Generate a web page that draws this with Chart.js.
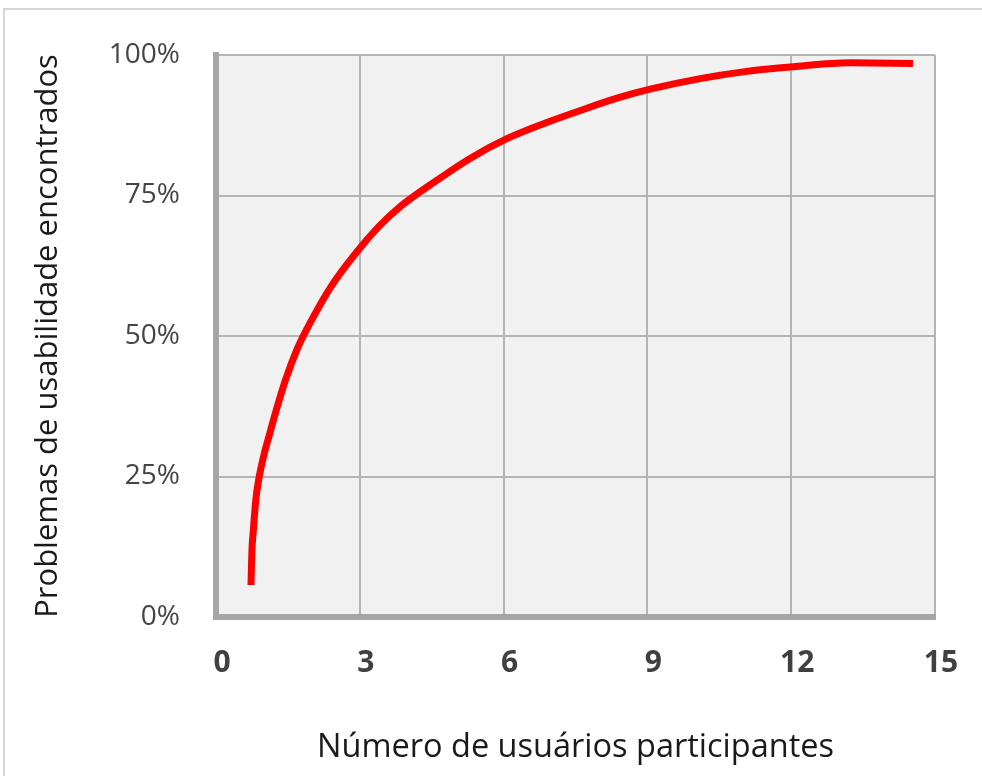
<!DOCTYPE html>
<html lang="pt">
<head>
<meta charset="utf-8">
<title>Problemas de usabilidade encontrados</title>
<script src="https://cdn.jsdelivr.net/npm/chart.js@4/dist/chart.umd.min.js"></script>
<style>
  html, body { margin: 0; padding: 0; background: #ffffff; overflow: hidden; }
  #wrap { position: relative; width: 982px; height: 776px; }
  #frame {
    position: absolute; left: 3px; top: 8px; width: 1200px; height: 1200px;
    border-top: 2px solid #d6d6d6; border-left: 2px solid #d6d6d6;
  }
  #chart { position: absolute; left: 0; top: 0; }
</style>
</head>
<body>
<div id="wrap">
  <div id="frame"></div>
  <canvas id="chart" width="982" height="776"></canvas>
</div>
<script>
// Número de usuários participantes (x) e parcela de problemas encontrados, em % (y)
const usuarios  = [0.73, 0.75, 0.78, 0.83, 0.89, 1.01, 1.11, 1.25, 1.45, 1.71, 1.98, 2.4, 2.94, 3.4, 3.84, 4.59, 5.3, 6.09, 6.9, 7.66, 8.4, 9.1, 10.1, 11, 12.04, 13.23, 14.54];
const problemas = [5.7, 11.9, 15.5, 20.8, 24.4, 29.2, 32.3, 36.6, 42.2, 48.0, 52.6, 58.8, 65.0, 69.5, 73.0, 77.6, 81.6, 85.2, 88.0, 90.3, 92.4, 94.0, 95.8, 97.0, 97.9, 98.6, 98.5];

// Marcas dos eixos
const xTicks = [0, 3, 6, 9, 12, 15];
const yTicks = [0, 25, 50, 75, 100];
const yTickLabels = ['0%', '25%', '50%', '75%', '100%'];

const pontos = usuarios.map((u, i) => ({ x: u, y: problemas[i] }));

// Fundo cinza claro da área de plotagem
const plotBackground = {
  id: 'plotBackground',
  beforeDraw(chart) {
    const { ctx, chartArea: a } = chart;
    ctx.save();
    ctx.fillStyle = '#f1f1f1';
    ctx.fillRect(a.left, a.top, a.right - a.left, a.bottom - a.top);
    ctx.restore();
  }
};

new Chart(document.getElementById('chart'), {
  type: 'line',
  data: {
    datasets: [{
      data: pontos,
      borderColor: '#ff0000',
      borderWidth: 7,
      borderCapStyle: 'butt',
      borderJoinStyle: 'round',
      pointRadius: 0,
      fill: false,
      cubicInterpolationMode: 'monotone'
    }]
  },
  plugins: [plotBackground],
  options: {
    responsive: false,
    animation: false,
    events: [],
    layout: { padding: { left: 0, right: 47, top: 55, bottom: 0 } },
    plugins: {
      legend: { display: false },
      tooltip: { enabled: false }
    },
    scales: {
      x: {
        type: 'linear',
        min: 0,
        max: 15,
        afterBuildTicks(scale) { scale.ticks = xTicks.map(v => ({ value: v })); },
        afterFit(scale) { scale.height = 776 - 617; },
        grid: { color: '#b4b4b4', lineWidth: 2, drawTicks: false },
        border: { color: '#a6a6a6', width: 6 },
        ticks: {
          padding: 28,
          labelOffset: 6,
          color: '#404040',
          font: { family: 'Open Sans', size: 30, weight: 'bold' },
          maxRotation: 0
        },
        title: {
          display: true,
          text: 'Número de usuários participantes',
          color: '#1a1a1a',
          font: { family: 'Open Sans', size: 32.5 },
          padding: { top: 0, bottom: 9 }
        }
      },
      y: {
        type: 'linear',
        min: 0,
        max: 100,
        afterBuildTicks(scale) { scale.ticks = yTicks.map(v => ({ value: v })); },
        afterFit(scale) { scale.width = 216; },
        grid: { color: '#b4b4b4', lineWidth: 2, drawTicks: false },
        border: { color: '#a6a6a6', width: 6 },
        ticks: {
          padding: 36,
          color: '#444444',
          font: { family: 'Open Sans', size: 28 },
          callback(value) { return yTickLabels[yTicks.indexOf(value)]; }
        },
        title: {
          display: true,
          text: 'Problemas de usabilidade encontrados',
          color: '#1a1a1a',
          font: { family: 'Open Sans', size: 31 },
          padding: { top: 30, bottom: 0 }
        }
      }
    }
  }
});
</script>
</body>
</html>
